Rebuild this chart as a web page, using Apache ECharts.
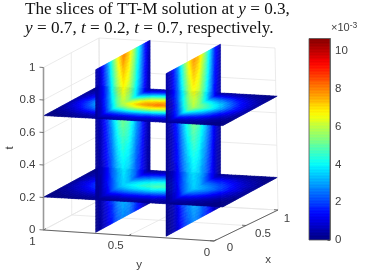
<!DOCTYPE html>
<html><head><meta charset="utf-8">
<style>html,body{margin:0;padding:0;background:#fff}#c{width:382px;height:271px;filter:blur(.35px)}</style>
<script src="https://cdn.jsdelivr.net/npm/echarts@6/dist/echarts.min.js"></script>
</head><body><div id="c"></div>
<script>
// value nodes (values are in units of 1e-3)
const xNodes=[0,.1,.2,.3,.4,.5,.6,.7,.8,.9,1];
const yNodes=[0,.1,.2,.3,.4,.5,.6,.7,.8,.9,1];
const tNodes=[0,.1,.2,.3,.4,.5,.6,.7,.8,.9,1];
// slice y=0.3 : rows t, columns x
const sliceY03=[
[.11,.36,.9,1.62,2.3,2.74,2.52,1.96,1.29,.56,.11],
[.13,.42,1.02,1.86,2.62,3.14,2.88,2.24,1.47,.64,.13],
[.14,.47,1.15,2.09,2.95,3.53,3.24,2.52,1.66,.72,.14],
[.16,.51,1.25,2.26,3.2,3.82,3.51,2.73,1.79,.78,.16],
[.17,.56,1.38,2.49,3.53,4.21,3.87,3.01,1.98,.86,.17],
[.19,.62,1.54,2.78,3.94,4.7,4.32,3.36,2.21,.96,.19],
[.21,.69,1.7,3.07,4.35,5.19,4.77,3.71,2.44,1.06,.21],
[.24,.78,1.92,3.48,4.92,5.88,5.4,4.2,2.76,1.2,.24],
[.27,.88,2.18,3.94,5.58,6.66,6.12,4.76,3.13,1.36,.27],
[.3,.96,2.37,4.29,6.07,7.25,6.66,5.18,3.4,1.48,.3],
[.32,1.04,2.56,4.64,6.56,7.84,7.2,5.6,3.68,1.6,.32]];
// slice y=0.7 : rows t, columns x
const sliceY07=[
[.11,.37,.91,1.64,2.33,2.78,2.55,1.98,1.31,.57,.11],
[.13,.43,1.04,1.88,2.65,3.18,2.92,2.27,1.49,.65,.13],
[.14,.48,1.17,2.12,2.98,3.57,3.28,2.55,1.68,.73,.14],
[.16,.52,1.27,2.29,3.24,3.87,3.55,2.76,1.81,.79,.16],
[.17,.57,1.4,2.52,3.57,4.26,3.91,3.04,2,.87,.17],
[.19,.63,1.56,2.81,3.98,4.75,4.36,3.39,2.24,.97,.19],
[.21,.7,1.72,3.1,4.4,5.24,4.82,3.75,2.47,1.07,.21],
[.24,.79,1.94,3.52,4.97,5.93,5.45,4.24,2.79,1.21,.24],
[.27,.89,2.2,3.98,5.64,6.72,6.18,4.81,3.16,1.37,.27],
[.3,.97,2.39,4.33,6.13,7.32,6.72,5.23,3.43,1.49,.3],
[.32,1.05,2.59,4.69,6.63,7.94,7.28,5.66,3.72,1.62,.32]];
// slice t=0.2 : rows y, columns x
const sliceT02=[
[.01,.03,.06,.12,.16,.2,.18,.14,.09,.04,.01],
[.05,.16,.38,.7,.98,1.18,1.08,.84,.55,.24,.05],
[.1,.34,.83,1.51,2.13,2.55,2.34,1.82,1.2,.52,.1],
[.14,.47,1.15,2.09,2.95,3.53,3.24,2.52,1.66,.72,.14],
[.18,.59,1.44,2.61,3.69,4.41,4.05,3.15,2.07,.9,.18],
[.2,.64,1.57,2.84,4.02,4.8,4.41,3.43,2.25,.98,.2],
[.18,.59,1.44,2.61,3.69,4.41,4.05,3.15,2.07,.9,.18],
[.14,.48,1.17,2.12,2.98,3.57,3.28,2.55,1.68,.73,.14],
[.1,.34,.83,1.51,2.13,2.55,2.34,1.82,1.2,.52,.1],
[.05,.16,.38,.7,.98,1.18,1.08,.84,.55,.24,.05],
[.01,.03,.06,.12,.16,.2,.18,.14,.09,.04,.01]];
// slice t=0.7 : rows y, columns x
const sliceT07=[
[.01,.05,.11,.2,.29,.34,.32,.25,.16,.07,.01],
[.08,.25,.61,1.1,1.56,1.86,1.71,1.33,.87,.38,.08],
[.17,.55,1.34,2.44,3.44,4.12,3.78,2.94,1.93,.84,.17],
[.24,.78,1.92,3.48,4.92,5.88,5.4,4.2,2.76,1.2,.24],
[.31,1,2.46,4.47,6.31,7.55,6.93,5.39,3.54,1.54,.31],
[.33,1.08,2.66,4.81,6.81,8.13,7.47,5.81,3.82,1.66,.33],
[.31,1,2.46,4.47,6.31,7.55,6.93,5.39,3.54,1.54,.31],
[.24,.79,1.94,3.52,4.97,5.93,5.45,4.24,2.79,1.21,.24],
[.17,.55,1.34,2.44,3.44,4.12,3.78,2.94,1.93,.84,.17],
[.08,.25,.61,1.1,1.56,1.86,1.71,1.33,.87,.38,.08],
[.01,.05,.11,.2,.29,.34,.32,.25,.16,.07,.01]];
const tTicks=[0,.2,.4,.6,.8,1];
const tTickLabels=['0','0.2','0.4','0.6','0.8','1'];
const xyTicks=[0,.5,1];
const xyTickLabels=['0','0.5','1'];
const cbTicks=[0,2,4,6,8,10];
const cbMax=10.67;

// view: projection of the slices and of the box
const W=382,H=271;
function warpY(y){ // slices sit slightly off the nominal axis position in the view
  if(y>=.7) return .711+(y-.7)*(1-.711)/.3;
  if(y>=.3) return .317+(y-.3)*(.711-.317)/.4;
  return y*.317/.3;
}
function project(x,y,t){const f=1-warpY(y);return [44+54.5*x+178.7*f,229.5-29.5*x+10*f-162.7*t];}
function far(x,y,t){return .944*x+.288*warpY(y)-.146*t;}
const boxB={A:[43.5,230],B:[214,241],C:[278,210],D:[100,200]};
const boxT={A:[43.5,67.5],B:[214,78.5],C:[275,48],D:[99,38]};
function bil(c,x,y,k){return (1-x)*(y*c.A[k]+(1-y)*c.B[k])+x*((1-y)*c.C[k]+y*c.D[k]);}
function box(x,y,t){return [0,1].map(k=>(1-t)*bil(boxB,x,y,k)+t*bil(boxT,x,y,k));}

// jet colormap with 64 levels
function jet(f){
  const c=v=>Math.round(255*Math.max(0,Math.min(1,v)));
  const r=Math.min(4*f-1.5,-4*f+4.5),g=Math.min(4*f-.5,-4*f+3.5),b=Math.min(4*f+.5,-4*f+2.5);
  return 'rgb('+c(r)+','+c(g)+','+c(b)+')';
}
function colorOf(v){const i=Math.min(63,Math.max(0,Math.floor(v/cbMax*64)));return jet((i+.5)/64);}

// shaded cells
const SUB=5,STEP=.1/SUB;
function shade(M,nu,nw){ // M[rowW][colU]
  const cu=Math.min(9,Math.floor(nu*10)),cw=Math.min(9,Math.floor(nw*10));
  const a=nu*10-cu,b=nw*10-cw;
  return (1-b)*((1-a)*M[cw][cu]+a*M[cw][cu+1])+b*((1-a)*M[cw+1][cu]+a*M[cw+1][cu+1]);
}
const cells=[];
function addSlice(kind,fixed,M){
  for(let i=0;i<10*SUB;i++)for(let j=0;j<10*SUB;j++){
    const u=i*STEP,w=j*STEP;
    const v=shade(M,u+STEP/2,w+STEP/2);
    const d=kind===0?far(u+STEP/2,fixed,w+STEP/2):far(u+STEP/2,w+STEP/2,fixed);
    cells.push([kind,fixed,u,w,v,d]);
  }
}
addSlice(0,yNodes[3],sliceY03);
addSlice(0,yNodes[7],sliceY07);
addSlice(1,tNodes[2],sliceT02);
addSlice(1,tNodes[7],sliceT07);
cells.sort((p,q)=>q[5]-p[5]);

// box segments
const gridSegs=[];
tTicks.forEach(t=>{gridSegs.push([0,1,t,1,1,t]);gridSegs.push([1,1,t,1,0,t]);});
xyTicks.forEach(v=>{
  gridSegs.push([1,v,0,1,v,1]);gridSegs.push([0,v,0,1,v,0]);
  gridSegs.push([v,1,0,v,1,1]);gridSegs.push([v,0,0,v,1,0]);
});
const frontSegs=[[0,1,0,0,0,0,'#555'],[0,0,0,1,0,0,'#555'],[0,1,0,0,1,1,'#999']];
const lineSt=(c,w)=>({stroke:c,lineWidth:w,fill:null});

const FONT='"Liberation Sans",Arial,sans-serif';
const textColor='#404040';
const labels=[];
tTicks.forEach((t,i)=>{const p=box(0,1,t);labels.push([tTickLabels[i],p[0]-8,p[1],'right',0]);});
xyTicks.forEach((v,i)=>{const p=box(0,v,0);labels.push([xyTickLabels[i],p[0]-(v===.5?13:v===1?11:7),p[1]+(v===.5?10:12),'center',0]);});
xyTicks.forEach((v,i)=>{const p=box(v,0,0);labels.push([xyTickLabels[i],p[0]+(v===.5?17:v===1?9:16),p[1]+(v===.5?8:v===1?9:7),'center',0]);});
labels.push(['t',10,148,'center',Math.PI/2]);
labels.push(['y',139,265,'center',0]);
labels.push(['x',268,260,'center',0]);

// ticks
const tickSegs=[];
tTicks.forEach(t=>{const p=box(0,1,t);tickSegs.push([p[0],p[1],p[0]-4,p[1]-.3]);});
xyTicks.forEach(v=>{const p=box(0,v,0);tickSegs.push([p[0],p[1],p[0]+2.5,p[1]-1.5]);});
xyTicks.forEach(v=>{const p=box(v,0,0);tickSegs.push([p[0],p[1],p[0]-4,p[1]-.3]);});

const stops=[];
for(let i=0;i<64;i++){const c=jet((i+.5)/64);stops.push({offset:1-i/64,color:c},{offset:1-(i+1)/64,color:c});}
stops.reverse();

const chart=echarts.init(document.getElementById('c'),null,{renderer:'canvas'});
chart.setOption({
  animation:false,backgroundColor:'#fff',
  title:[{
    left:25,top:0,padding:0,
    text:'{r|The slices of TT-M solution at }{i|y}{r| = 0.3,}\n{r|}{i|y}{r| = 0.7, }{i|t}{r| = 0.2, }{i|t}{r| = 0.7, respectively.}',
    textStyle:{fontWeight:'normal',rich:{
      r:{fontFamily:'"Liberation Serif",serif',fontWeight:'normal',fontSize:17.2,color:'#111',lineHeight:19},
      i:{fontFamily:'"Liberation Serif",serif',fontWeight:'normal',fontStyle:'italic',fontSize:17.2,color:'#111',lineHeight:19}}}
  }],
  grid:[
    {left:0,top:0,width:W,height:H,show:false},
    {left:309,top:38.5,width:21,height:201.5,show:true,borderColor:'#555',borderWidth:.8,backgroundColor:'transparent',z:5}
  ],
  xAxis:[
    {type:'value',gridIndex:0,min:0,max:W,show:false},
    {type:'category',gridIndex:1,data:['c'],axisLine:{show:false},axisTick:{show:false},axisLabel:{show:false}}
  ],
  yAxis:[
    {type:'value',gridIndex:0,min:0,max:H,inverse:true,show:false},
    {type:'value',gridIndex:1,min:0,max:cbMax,position:'right',splitLine:{show:false},
     axisLine:{show:true,lineStyle:{color:'#555',width:.8}},
     axisTick:{show:true,inside:true,length:2.5,customValues:cbTicks,lineStyle:{color:'#444',width:.8}},
     axisLabel:{customValues:cbTicks,color:textColor,fontFamily:FONT,fontSize:11.5,margin:5}}
  ],
  graphic:[{type:'text',left:331,top:21,style:{
    rich:{a:{fontFamily:FONT,fontSize:11,fill:textColor},b:{fontFamily:FONT,fontSize:8.5,fill:textColor,verticalAlign:'top',padding:[0,0,4,0]}},
    text:'{a|×10}{b|-3}'}}],
  series:[
    {type:'custom',xAxisIndex:0,yAxisIndex:0,silent:true,data:gridSegs,z:1,
     renderItem:(p,api)=>{const a=api.coord(box(api.value(0),api.value(1),api.value(2))),b=api.coord(box(api.value(3),api.value(4),api.value(5)));
       return {type:'line',shape:{x1:a[0],y1:a[1],x2:b[0],y2:b[1]},style:lineSt('#e6e6e6',.8)};}},
    {type:'custom',xAxisIndex:0,yAxisIndex:0,silent:true,data:frontSegs.map((s,i)=>[...s.slice(0,6),i]),z:2,
     renderItem:(p,api)=>{const a=api.coord(box(api.value(0),api.value(1),api.value(2))),b=api.coord(box(api.value(3),api.value(4),api.value(5)));
       const s=frontSegs[api.value(6)];
       return {type:'line',shape:{x1:a[0],y1:a[1],x2:b[0],y2:b[1]},style:lineSt(s[6],s[6]==='#999'?1.6:.9)};}},
    {type:'custom',xAxisIndex:0,yAxisIndex:0,silent:true,data:tickSegs,z:2,
     renderItem:(p,api)=>{const a=api.coord([api.value(0),api.value(1)]),b=api.coord([api.value(2),api.value(3)]);
       return {type:'line',shape:{x1:a[0],y1:a[1],x2:b[0],y2:b[1]},style:lineSt('#555',.8)};}},
    {type:'custom',xAxisIndex:0,yAxisIndex:0,silent:true,z:3,progressive:0,animation:false,
     data:cells,
     renderItem:(p,api)=>{
       const kind=api.value(0),fx=api.value(1),u=api.value(2),w=api.value(3),v=api.value(4);
       const P=(a,b)=>api.coord(kind===0?project(a,fx,b):project(a,b,fx));
       const col=colorOf(v);
       return {type:'polygon',shape:{points:[P(u,w),P(u+STEP,w),P(u+STEP,w+STEP),P(u,w+STEP)]},
               style:{fill:col,stroke:col,lineWidth:.5}};
     }},
    {type:'custom',xAxisIndex:0,yAxisIndex:0,silent:true,z:4,
     data:labels.map((l,i)=>[i]),
     renderItem:(p,api)=>{const l=labels[api.value(0)],c=api.coord([l[1],l[2]]);
       return {type:'text',x:c[0],y:c[1],rotation:l[4],style:{text:l[0],x:0,y:0,align:l[3],verticalAlign:'middle',fill:textColor,font:'11.5px '+FONT}};}},
    {type:'bar',xAxisIndex:1,yAxisIndex:1,barWidth:'100%',silent:true,z:2,data:[cbMax],
     itemStyle:{color:new echarts.graphic.LinearGradient(0,1,0,0,stops.map(s=>({offset:1-s.offset,color:s.color})).sort((m,n)=>m.offset-n.offset))}}
  ]
});
</script></body></html>
